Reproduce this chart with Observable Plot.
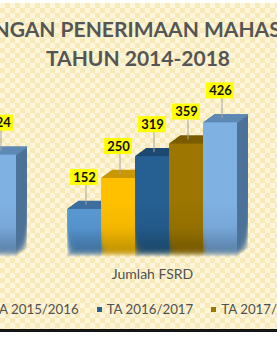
<!DOCTYPE html>
<html><head><meta charset="utf-8">
<script src="https://cdn.jsdelivr.net/npm/d3@7"></script>
<script src="https://cdn.jsdelivr.net/npm/@observablehq/plot@0.6"></script>
<style>
html,body{margin:0;padding:0;background:#fff;overflow:hidden;width:277px;height:337px;}
#frame{position:absolute;left:-200px;top:3px;width:676px;height:326px;
  background-color:#fdf6dc;
  background-image:repeating-conic-gradient(#f7eab8 0 25%, #fdf6dc 0 50%);
  background-size:10px 10px;
  border-bottom:3px solid #151515;
  font-family:Lato,"DejaVu Sans",sans-serif;}
#title{position:absolute;left:0;top:11px;width:100%;text-align:center;color:#555;font-weight:bold;font-size:21px;line-height:29px;white-space:nowrap;}
#chart{position:absolute;left:0;top:67px;}
#legend{position:absolute;left:7px;top:297px;width:100%;display:flex;justify-content:center;gap:18px;color:#505050;font-size:13.3px;line-height:18px;white-space:nowrap;}
#legend .item{display:flex;align-items:center;}
#legend .sw{width:5px;height:5px;margin-right:5px;}
</style></head>
<body>
<div id="frame">
  <div id="title"></div>
  <div id="chart"></div>
  <div id="legend"></div>
</div>
<script>
// ---- data ----
const titleLines = ["PERKEMBANGAN PENERIMAAN MAHASISWA BARU", "TAHUN 2014-2018"];
const years = ["TA 2014/2015", "TA 2015/2016", "TA 2016/2017", "TA 2017/2018", "TA 2018/2019"];
const groups = ["prev", "FSRD"];
const groupLabels = ["", "Jumlah FSRD"];
const fsrdValues = [152, 250, 319, 359, 426];
const prevVisibleYear = "TA 2018/2019";
const prevVisibleValue = 324;
const frontColors = ["#5b9bd5", "#ffc000", "#265f92", "#9c7600", "#80b1e3"];
const topColors   = ["#3e6e9d", "#c99700", "#1c4a73", "#7b5d00", "#5e89b4"];
const sideColors  = ["#35628d", "#b08500", "#17405f", "#6a5000", "#4d7399"];

// ---- build table ----
const rows = [{group: groups[0], year: prevVisibleYear, value: prevVisibleValue}]
  .concat(years.map((y, i) => ({group: groups[1], year: y, value: fsrdValues[i]})));
const yi = d => years.indexOf(d.year);

document.getElementById("title").innerHTML = titleLines.map(t => `<div>${t}</div>`).join("");
document.getElementById("legend").innerHTML = years.map((y, i) =>
  `<div class="item"><div class="sw" style="background:${frontColors[i]}"></div>${y}</div>`).join("");

const N = 14, DX = 11, DY = 8;
const sideLayers = d3.range(N, 0, -1).map(k => Plot.barY(rows, {
  x: "year", y: "value", fill: d => sideColors[yi(d)], dx: k * DX / N, dy: -k * DY / N}));
const topLayers = d3.range(N, 0, -1).map(k => Plot.tickY(rows, {
  x: "year", y: "value", stroke: d => topColors[yi(d)], strokeWidth: 1.3, dx: k * DX / N, dy: -k * DY / N}));

const chart = Plot.plot({
  width: 676, height: 220,
  marginTop: 10, marginBottom: 33, marginLeft: 46, marginRight: 239,
  style: {fontFamily: "Lato, sans-serif", fontSize: "14px", color: "#505050", background: "transparent", overflow: "visible"},
  facet: {data: rows, x: "group"},
  fx: {domain: groups, paddingInner: 51 / 221, paddingOuter: 0, axis: "bottom", label: null,
       tickSize: 0, tickPadding: 12, tickFormat: g => groupLabels[groups.indexOf(g)]},
  x: {domain: years, padding: 0, axis: null},
  y: {domain: [0, 560], axis: null},
  color: {type: "identity"},
  marks: [
    ...sideLayers,
    ...topLayers,
    Plot.barY(rows, {x: "year", y: "value", fill: d => frontColors[yi(d)]}),
    Plot.barY(rows, {x: "year", y1: "value", y2: "value", fill: "#a5a5a5",
      insetTop: -24.5, insetBottom: 4, insetLeft: 18.5, insetRight: 14.5}),
    Plot.barY(rows, {x: "year", y1: "value", y2: "value", fill: "#ffff00",
      insetTop: -40, insetBottom: 24, insetLeft: 3, insetRight: 3}),
    Plot.text(rows, {x: "year", y: "value", text: d => String(d.value), dy: -32,
      fill: "#111", fontWeight: "bold", fontSize: 13})
  ]
});
document.getElementById("chart").appendChild(chart);

// bottom fade of the bars
const svg = chart.tagName.toLowerCase() === "svg" ? chart : chart.querySelector("svg");
const base = chart.scale("y").apply(0);
const defs = d3.select(svg).insert("defs", ":first-child");
const grad = defs.append("linearGradient").attr("id", "fadeGrad").attr("gradientUnits", "userSpaceOnUse")
  .attr("x1", 0).attr("x2", 0).attr("y1", base - 56).attr("y2", base + 3);
grad.append("stop").attr("offset", 0).attr("stop-color", "#fff");
grad.append("stop").attr("offset", 0.45).attr("stop-color", "#d8d8d8");
grad.append("stop").attr("offset", 1).attr("stop-color", "#000");
const mask = defs.append("mask").attr("id", "fade").attr("maskUnits", "userSpaceOnUse")
  .attr("x", -3000).attr("y", -3000).attr("width", 8000).attr("height", 8000);
mask.append("rect").attr("x", -3000).attr("y", -3000).attr("width", 8000).attr("height", 8000).attr("fill", "url(#fadeGrad)");
svg.querySelectorAll('g[aria-label="bar"], g[aria-label="tick"]').forEach(g => g.setAttribute("mask", "url(#fade)"));
</script>
</body></html>
